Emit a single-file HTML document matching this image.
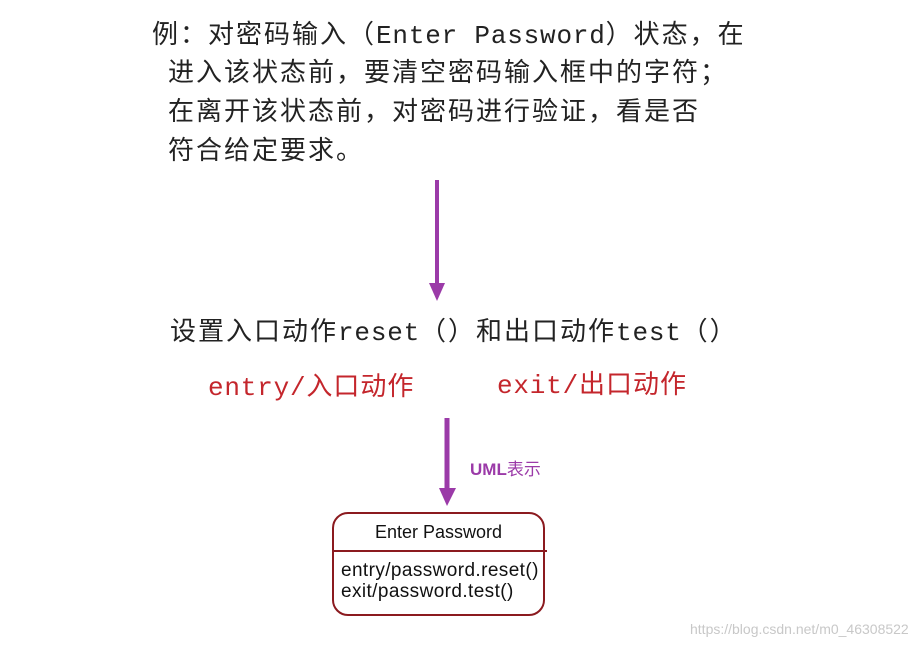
<!DOCTYPE html>
<html><head><meta charset="utf-8"><style>
body{margin:0;width:922px;height:646px;background:#fff;position:relative;overflow:hidden;font-family:"Liberation Mono","Noto Sans CJK SC",monospace}
.t{position:absolute;white-space:nowrap;font-size:26px;color:#222;line-height:1;letter-spacing:2px}
.t b{font-weight:normal;letter-spacing:0.8px}
.r{color:#c4262c;letter-spacing:1px}
.box{position:absolute;left:332px;top:512px;width:209px;height:100px;border:2px solid #8b1a1f;border-radius:16px;font-family:"Liberation Sans",sans-serif;color:#111}
</style></head><body>
<div class="t" style="left:152px;top:23px">例：对密码输入（<b>Enter Password</b>）状态，在</div>
<div class="t" style="left:168px;top:61px">进入该状态前，要清空密码输入框中的字符；</div>
<div class="t" style="left:168px;top:100px">在离开该状态前，对密码进行验证，看是否</div>
<div class="t" style="left:168px;top:139px">符合给定要求。</div>
<div class="t" style="left:170px;top:320px">设置入口动作<b>reset</b>（）和出口动作<b>test</b>（）</div>
<div class="t r" style="left:208px;top:375px"><b>entry/</b>入口动作</div>
<div class="t r" style="left:497px;top:373px"><b>exit/</b>出口动作</div>
<svg style="position:absolute;left:0;top:0" width="922" height="646">
<line x1="437" y1="180" x2="437" y2="285" stroke="#9b3aa8" stroke-width="4"/>
<polygon points="429,283 445,283 437,301" fill="#9b3aa8"/>
<line x1="447" y1="418" x2="447" y2="490" stroke="#9b3aa8" stroke-width="5"/>
<polygon points="439,488 456,488 447,506" fill="#9b3aa8"/>
</svg>
<div style="position:absolute;left:470px;top:455px;font-family:'Liberation Sans','Noto Sans CJK SC',sans-serif;font-size:17px;color:#9b3aa8;font-weight:bold">UML<span style="font-weight:normal">表示</span></div>
<div class="box">
<div style="text-align:center;font-size:18px;margin-top:8px">Enter Password</div>
<div style="position:absolute;left:0;top:36px;width:213px;border-top:2px solid #8b1a1f"></div>
<div style="position:absolute;left:7px;top:46px;font-size:19px;letter-spacing:0.4px;line-height:21px">entry/password.reset()<br>exit/password.test()</div>
</div>
<div style="position:absolute;left:690px;top:621px;font-family:'Liberation Sans',sans-serif;font-size:14px;color:#c8c8c8">https://blog.csdn.net/m0_46308522</div>
</body></html>
